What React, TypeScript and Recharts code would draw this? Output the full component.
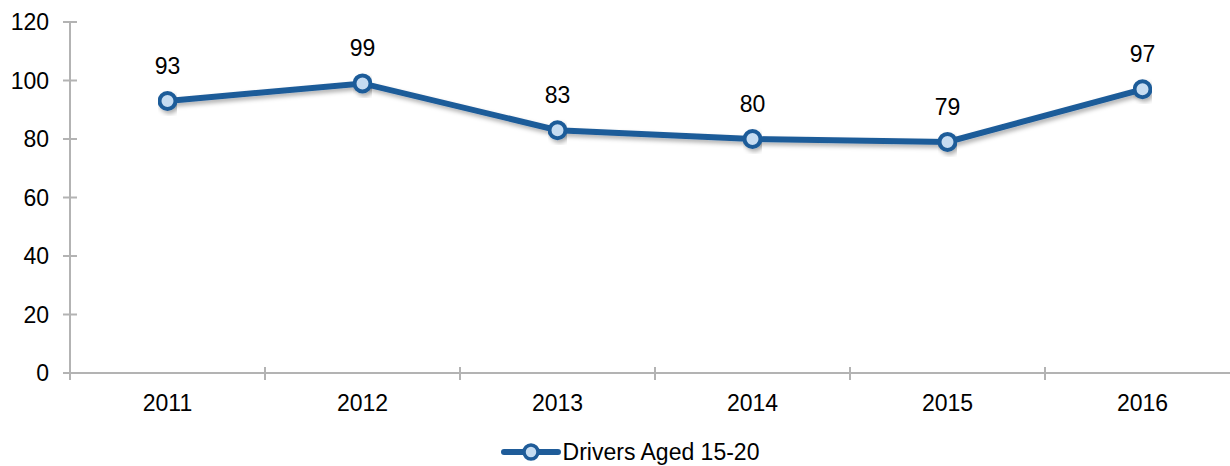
import React from 'react';
import { LineChart, Line, XAxis, YAxis, LabelList, Legend } from 'recharts';

const years = ['2011', '2012', '2013', '2014', '2015', '2016'];
const drivers = [93, 99, 83, 80, 79, 97];
const yTicks = [0, 20, 40, 60, 80, 100, 120];
const seriesName = 'Drivers Aged 15-20';

const data = years.map((year, i) => ({ year, drivers: drivers[i] }));

const CHART_W = 1240;
const CHART_H = 466;
const Y_W = 70;
const BAND = (CHART_W - Y_W) / years.length;
const AXIS = '#b3b3b3';
const BLUE = '#1f5c99';
const DOT = '#c6dcf1';
const FONT = '"Liberation Sans", Arial, sans-serif';
const FS = 23;

const XTick = ({ x, y, payload, index }: any) => (
  <g>
    <line x1={x - BAND / 2} x2={x - BAND / 2} y1={y - 6} y2={y + 7} stroke={AXIS} strokeWidth={2} />
    {index === years.length - 1 && (
      <line x1={x + BAND / 2} x2={x + BAND / 2} y1={y - 6} y2={y + 7} stroke={AXIS} strokeWidth={2} />
    )}
    <text x={x} y={y + 30} dy="0.35em" textAnchor="middle" fontSize={FS} fontFamily={FONT} fill="#000">
      {payload.value}
    </text>
  </g>
);

const YTick = ({ x, y, payload }: any) => (
  <g>
    <line x1={x - 7} x2={x + 7} y1={y} y2={y} stroke={AXIS} strokeWidth={2} />
    <text x={x - 21} y={y} dy="0.35em" textAnchor="end" fontSize={FS} fontFamily={FONT} fill="#000">
      {payload.value}
    </text>
  </g>
);

const LegendContent = () => (
  <div style={{ height: 28, display: 'flex', justifyContent: 'center', alignItems: 'center', paddingLeft: 20, fontFamily: FONT, fontSize: FS, color: '#000' }}>
    <svg width={60} height={24} style={{ marginRight: 2 }}>
      <line x1={3} x2={57} y1={12} y2={12} stroke={BLUE} strokeWidth={6} strokeLinecap="round" />
      <circle cx={30} cy={12} r={7} fill={DOT} stroke={BLUE} strokeWidth={3.5} />
    </svg>
    <span>{seriesName}</span>
  </div>
);

export default function App() {
  return (
    <div style={{ position: 'absolute', left: 0, top: 0, width: 1230, height: 466, overflow: 'hidden', background: '#fff' }}>
      <LineChart width={CHART_W} height={CHART_H} data={data} margin={{ top: 22, right: 0, bottom: 0, left: 0 }}>
        <defs>
          <filter id="lineShadow" x="-5%" y="-20%" width="110%" height="160%">
            <feDropShadow dx={2} dy={3} stdDeviation={2} floodColor="#000" floodOpacity={0.3} />
          </filter>
        </defs>
        <XAxis
          dataKey="year"
          height={65}
          padding={{ left: BAND / 2, right: BAND / 2 }}
          axisLine={{ stroke: AXIS, strokeWidth: 2 }}
          tickLine={false}
          tickSize={0}
          tickMargin={0}
          interval={0}
          tick={(p: any) => <XTick {...p} />}
        />
        <YAxis
          width={Y_W}
          domain={[0, 120]}
          ticks={yTicks}
          axisLine={{ stroke: AXIS, strokeWidth: 2 }}
          tickLine={false}
          tickSize={0}
          tickMargin={0}
          interval={0}
          tick={(p: any) => <YTick {...p} />}
        />
        <Legend verticalAlign="bottom" wrapperStyle={{ left: 0, width: CHART_W }} content={() => <LegendContent />} />
        <Line
          type="linear"
          dataKey="drivers"
          name={seriesName}
          stroke={BLUE}
          strokeWidth={6}
          filter="url(#lineShadow)"
          dot={{ r: 8, fill: DOT, stroke: BLUE, strokeWidth: 4 }}
          activeDot={false}
          isAnimationActive={false}
        >
          <LabelList dataKey="drivers" position="top" offset={27} fontSize={FS} fontFamily={FONT} fill="#000" />
        </Line>
      </LineChart>
    </div>
  );
}
